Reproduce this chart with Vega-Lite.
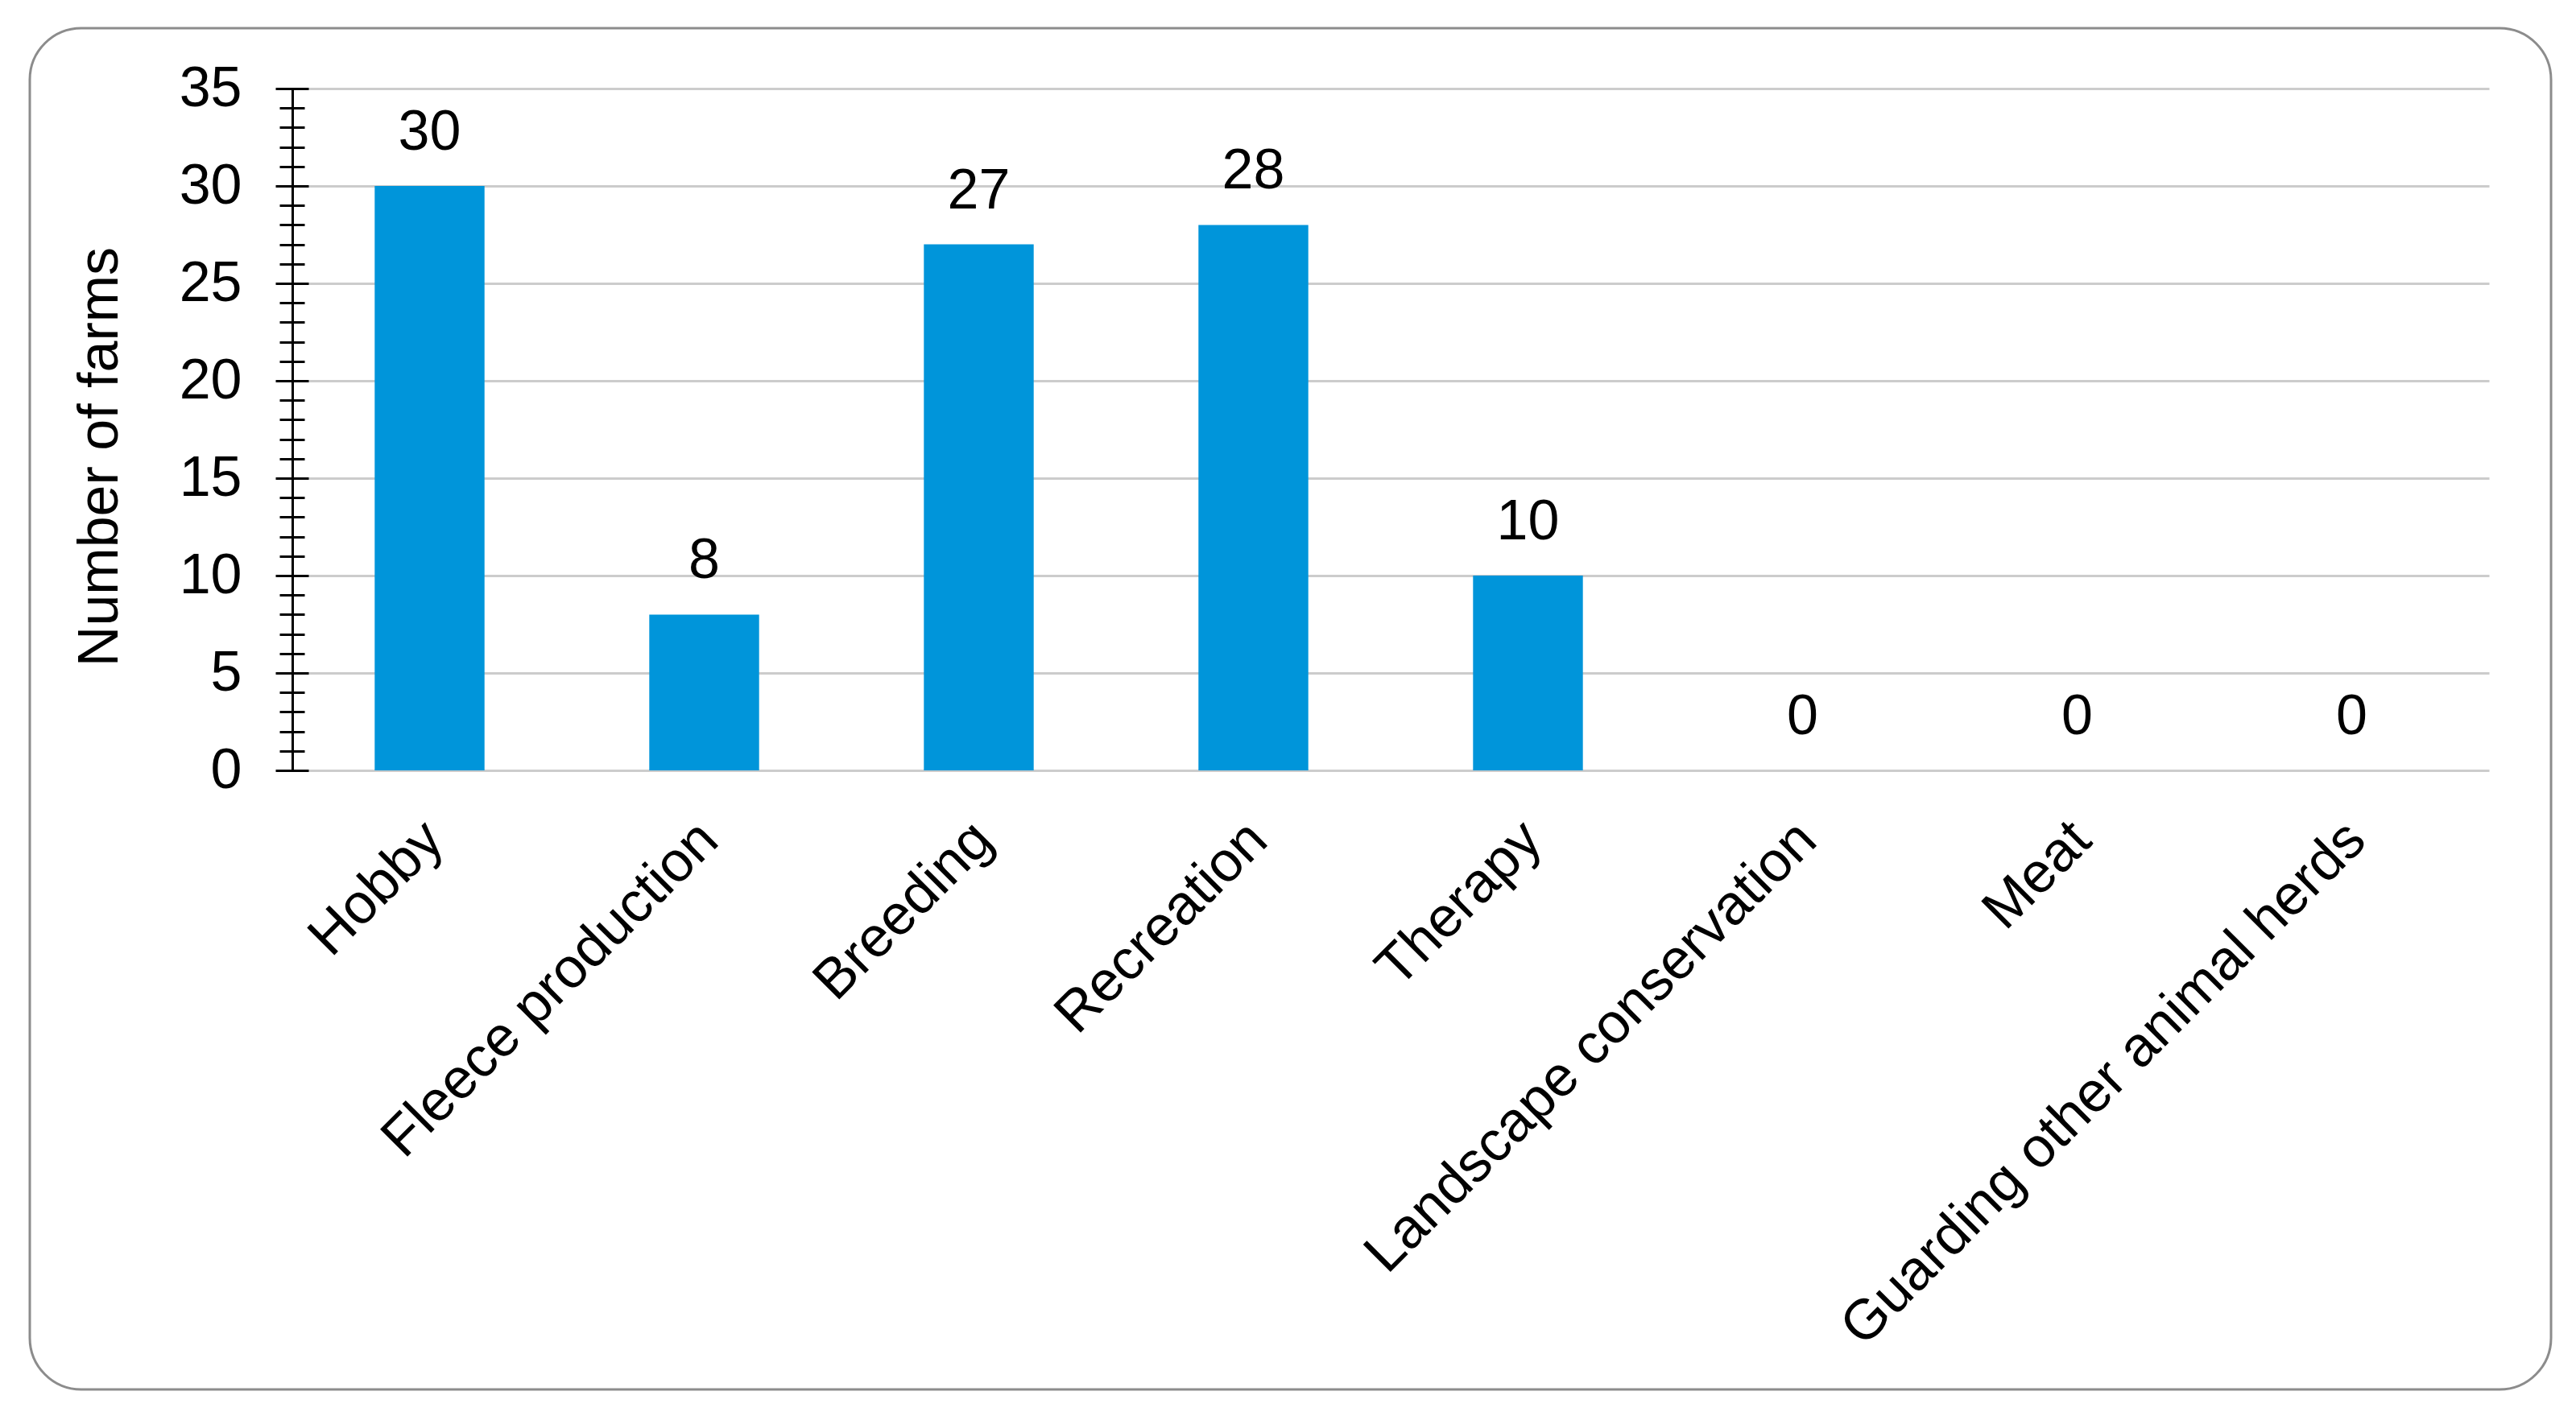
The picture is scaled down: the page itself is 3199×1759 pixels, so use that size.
{
  "$schema": "https://vega.github.io/schema/vega-lite/v6.json",
  "width": 3131,
  "height": 1691,
  "autosize": {"type": "none"},
  "padding": {"left": 37, "top": 35, "right": 31, "bottom": 33},
  "background": "white",
  "config": {
    "font": "Liberation Sans",
    "view": {"stroke": "#8c8c8c", "strokeWidth": 3, "cornerRadius": 64, "fill": "white"}
  },
  "data": {
    "values": [
      {"purpose": "Hobby", "farms": 30},
      {"purpose": "Fleece production", "farms": 8},
      {"purpose": "Breeding", "farms": 27},
      {"purpose": "Recreation", "farms": 28},
      {"purpose": "Therapy", "farms": 10},
      {"purpose": "Landscape conservation", "farms": 0},
      {"purpose": "Meat", "farms": 0},
      {"purpose": "Guarding other animal herds", "farms": 0}
    ]
  },
  "encoding": {
    "x": {
      "field": "purpose",
      "type": "nominal",
      "sort": null,
      "scale": {"range": [326, 3054], "paddingInner": 0.6, "paddingOuter": 0.3},
      "axis": {
        "title": null,
        "orient": "bottom",
        "offset": -769,
        "domain": false,
        "ticks": false,
        "tickSize": 0,
        "grid": false,
        "labelAngle": -45,
        "labelAlign": "right",
        "labelBaseline": "middle",
        "labelPadding": 75,
        "labelOffset": 6,
        "labelFontSize": 70,
        "labelColor": "black",
        "labelLimit": 0,
        "labelOverlap": false
      }
    }
  },
  "layer": [
    {
      "mark": {"type": "bar", "color": "#0095DA"},
      "encoding": {
        "y": {
          "field": "farms",
          "type": "quantitative",
          "scale": {"domain": [0, 35], "range": [922, 75], "nice": false},
          "axis": {
            "orient": "left",
            "title": "Number of farms",
            "offset": -346,
            "values": [0, 5, 10, 15, 20, 25, 30, 35],
            "domain": false,
            "labelOverlap": false,
            "labelFontSize": 70,
            "labelColor": "black",
            "labelPadding": 42,
            "tickSize": 41,
            "tickWidth": 3,
            "tickColor": "black",
            "grid": true,
            "gridColor": "#cccccc",
            "gridWidth": 3,
            "titleFontSize": 70,
            "titleFontWeight": "normal",
            "titleColor": "black",
            "titleX": -238,
            "titleY": 532,
            "titleAngle": -90,
            "titleAlign": "center",
            "titleBaseline": "alphabetic"
          }
        }
      }
    },
    {
      "mark": {"type": "text", "dy": -45, "baseline": "alphabetic", "fontSize": 70, "color": "black"},
      "encoding": {
        "text": {"field": "farms", "type": "quantitative"},
        "y": {
          "field": "farms",
          "type": "quantitative",
          "scale": {"domain": [0, 35], "range": [922, 75], "nice": false},
          "axis": {
            "orient": "left",
            "title": null,
            "offset": -341,
            "values": [1,2,3,4,6,7,8,9,11,12,13,14,16,17,18,19,21,22,23,24,26,27,28,29,31,32,33,34],
            "domain": false,
            "labels": false,
            "grid": false,
            "tickSize": 31,
            "tickWidth": 3,
            "tickColor": "black"
          }
        }
      }
    },
    {
      "mark": {"type": "bar", "opacity": 0},
      "encoding": {
        "y": {
          "field": "farms",
          "type": "quantitative",
          "scale": {"domain": [0, 35], "range": [922, 75], "nice": false},
          "axis": {
            "orient": "left",
            "title": null,
            "offset": -326,
            "domain": true,
            "domainColor": "black",
            "domainWidth": 3,
            "ticks": false,
            "labels": false,
            "grid": false
          }
        }
      }
    }
  ],
  "resolve": {"axis": {"y": "independent"}}
}
